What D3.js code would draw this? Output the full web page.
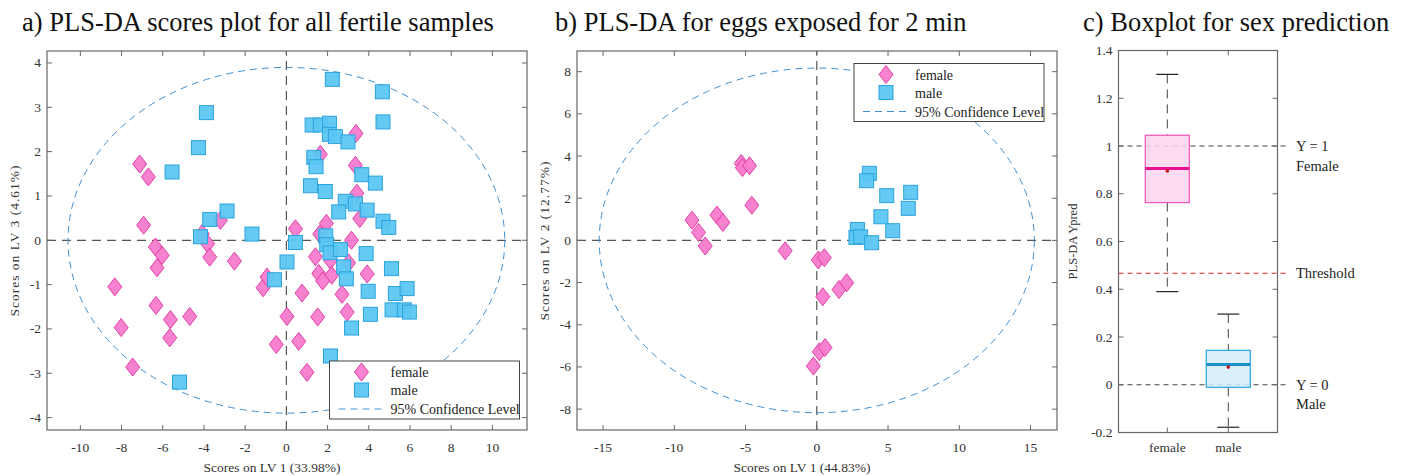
<!DOCTYPE html>
<html>
<head>
<meta charset="utf-8">
<script src="https://cdn.jsdelivr.net/npm/d3@7"></script>
<style>
  body { margin: 0; background: #fff; }
  svg { display: block; font-family: "Liberation Serif", "DejaVu Serif", serif; }
</style>
</head>
<body>
<svg id="chart" width="1410" height="476"></svg>
<script>
// panel a: scores on LV1 / LV3, all fertile samples
const femaleA = [
  [-7.12,1.72],[-6.70,1.43],[-6.93,0.34],[-3.2,0.45],[-4.09,0.15],[-3.82,-0.08],
  [-6.36,-0.15],[-6.03,-0.34],[-3.72,-0.38],[-2.52,-0.47],[0.44,0.26],[-6.28,-0.62],
  [-8.33,-1.05],[-6.33,-1.47],[-5.63,-1.79],[-4.69,-1.72],[-5.66,-2.2],[-8.02,-1.97],
  [-7.46,-2.86],[-1.13,-1.07],[-0.94,-0.83],[0.03,-1.72],[-0.49,-2.35],[3.38,2.41],
  [1.65,1.94],[3.35,1.69],[3.42,1.06],[3.56,0.49],[1.94,0.38],[1.62,0.14],[3.16,0.0],
  [1.41,-0.37],[2.14,-0.45],[3.02,-0.51],[1.57,-0.75],[2.2,-0.79],[1.76,-0.92],
  [3.92,-0.76],[0.76,-1.19],[2.7,-1.22],[1.52,-1.73],[2.95,-1.62],[0.6,-2.28],[1.0,-2.98]
];
const maleA = [
  [-3.88,2.88],[-4.27,2.09],[-5.55,1.54],[-2.88,0.66],[-3.72,0.47],[-4.17,0.08],
  [-1.67,0.14],[0.44,-0.05],[0.03,-0.49],[-0.58,-0.89],[-5.19,-3.2],
  [2.23,3.63],[4.66,3.35],[4.69,2.67],[1.25,2.6],[1.65,2.6],[2.09,2.64],[2.09,2.39],
  [2.38,2.34],[2.99,2.22],[1.33,1.87],[1.44,1.66],[3.66,1.48],[4.32,1.29],[1.17,1.23],
  [1.89,1.1],[2.86,0.88],[3.35,0.82],[3.92,0.68],[2.54,0.64],[4.69,0.43],[4.97,0.29],
  [1.91,0.1],[1.96,-0.1],[2.12,-0.28],[2.62,-0.21],[3.87,-0.3],[2.78,-0.6],[2.91,-0.87],
  [5.1,-0.64],[3.97,-1.15],[5.29,-1.2],[5.86,-1.09],[4.08,-1.67],[5.13,-1.57],
  [5.73,-1.57],[5.97,-1.62],[3.16,-1.98],[2.14,-2.61]
];
const xTicksA = [-10,-8,-6,-4,-2,0,2,4,6,8,10];
const yTicksA = [-4,-3,-2,-1,0,1,2,3,4];
const ellipseA = [10.6, 3.9];

// panel b: eggs exposed for 2 min
const femaleB = [
  [-8.76,0.96],[-8.3,0.38],[-7.83,-0.27],[-7.01,1.2],[-6.59,0.85],[-5.3,3.65],
  [-5.22,3.45],[-4.72,3.54],[-4.56,1.67],[-2.22,-0.49],[0.11,-0.93],[0.53,-0.82],
  [0.42,-2.67],[1.56,-2.33],[2.1,-2.01],[0.18,-5.28],[0.58,-5.08],[-0.24,-5.96]
];
const maleB = [
  [3.69,3.18],[3.5,2.83],[4.91,2.12],[6.59,2.28],[6.42,1.52],[4.5,1.12],
  [5.33,0.46],[2.85,0.52],[2.75,0.14],[3.08,0.17],[3.85,-0.11]
];
const xTicksB = [-15,-10,-5,0,5,10,15];
const yTicksB = [-8,-6,-4,-2,0,2,4,6,8];
const ellipseB = [15.27, 8.17];

// panel c: boxplot of predicted Y
const boxGroups = ["female", "male"];
const whiskerHigh = [1.30, 0.296];
const q3 = [1.045, 0.144];
const medians = [0.906, 0.085];
const q1 = [0.763, -0.011];
const whiskerLow = [0.39, -0.178];
const means = [0.895, 0.074];
const threshold = 0.467;
const yTicksC = [-0.2, 0, 0.2, 0.4, 0.6, 0.8, 1, 1.2, 1.4];

const svg = d3.select("#chart");
const axisColor = "#666";
const textColor = "#333";
const femaleFill = "#f77ccd", femaleStroke = "#e23fa6";
const maleFill = "#5cc6f2", maleStroke = "#2aa3de";
const fmt = d => String(+d.toFixed(1));

// title text
function title(x, text) {
  svg.append("text").attr("x", x).attr("y", 31)
    .attr("font-size", 26.5).attr("fill", "#111").text(text);
}
title(22, "a) PLS-DA scores plot for all fertile samples");
title(555, "b) PLS-DA for eggs exposed for 2 min");
title(1083, "c) Boxplot for sex prediction");

// box + ticks inside on all four sides, like MATLAB "box on"
function frame(g, x, y, xTicks, yTicks, xLabels, yFmt) {
  const [x0, x1] = x.range(), [y0, y1] = y.range();
  g.append("rect").attr("x", x0).attr("y", y1).attr("width", x1 - x0).attr("height", y0 - y1)
    .attr("fill", "none").attr("stroke", axisColor).attr("stroke-width", 1.2);
  const tl = 5;
  xTicks.forEach((t, i) => {
    const px = x(t);
    g.append("line").attr("x1", px).attr("x2", px).attr("y1", y0).attr("y2", y0 - tl).attr("stroke", axisColor);
    g.append("line").attr("x1", px).attr("x2", px).attr("y1", y1).attr("y2", y1 + tl).attr("stroke", axisColor);
    g.append("text").attr("x", px).attr("y", y0 + 22).attr("text-anchor", "middle")
      .attr("font-size", 13.5).attr("fill", textColor).text(xLabels ? xLabels[i] : t);
  });
  yTicks.forEach(t => {
    const py = y(t);
    g.append("line").attr("x1", x0).attr("x2", x0 + tl).attr("y1", py).attr("y2", py).attr("stroke", axisColor);
    g.append("line").attr("x1", x1).attr("x2", x1 - tl).attr("y1", py).attr("y2", py).attr("stroke", axisColor);
    g.append("text").attr("x", x0 - 6).attr("y", py + 4.5).attr("text-anchor", "end")
      .attr("font-size", 13.5).attr("fill", textColor).text(yFmt ? yFmt(t) : t);
  });
}

function diamond(g, px, py) {
  g.append("path").attr("d", `M${px},${py - 9}L${px + 7},${py}L${px},${py + 9}L${px - 7},${py}Z`)
    .attr("fill", femaleFill).attr("stroke", femaleStroke).attr("stroke-width", 1).attr("fill-opacity", 0.95);
}
function square(g, px, py) {
  g.append("rect").attr("x", px - 7).attr("y", py - 7).attr("width", 14).attr("height", 14)
    .attr("fill", maleFill).attr("stroke", maleStroke).attr("stroke-width", 1).attr("fill-opacity", 0.95);
}

function scatterPanel(opt) {
  const g = svg.append("g");
  const x = d3.scaleLinear().domain(opt.xDomain).range(opt.xRange);
  const y = d3.scaleLinear().domain(opt.yDomain).range(opt.yRange);

  // zero lines
  g.append("line").attr("x1", x.range()[0]).attr("x2", x.range()[1]).attr("y1", y(0)).attr("y2", y(0))
    .attr("stroke", "#555").attr("stroke-dasharray", "9,6").attr("stroke-width", 1.2);
  g.append("line").attr("x1", x(0)).attr("x2", x(0)).attr("y1", y.range()[0]).attr("y2", y.range()[1])
    .attr("stroke", "#555").attr("stroke-dasharray", "9,6").attr("stroke-width", 1.2);

  // 95% confidence ellipse
  g.append("ellipse").attr("cx", x(0)).attr("cy", y(0))
    .attr("rx", x(opt.ellipse[0]) - x(0)).attr("ry", y(0) - y(opt.ellipse[1]))
    .attr("fill", "none").attr("stroke", "#3f8fd2").attr("stroke-width", 1)
    .attr("stroke-dasharray", "7,5");

  opt.female.forEach(d => diamond(g, x(d[0]), y(d[1])));
  opt.male.forEach(d => square(g, x(d[0]), y(d[1])));

  frame(g, x, y, opt.xTicks, opt.yTicks);

  const [x0, x1] = x.range(), [y0, y1] = y.range();
  // x label sits a little left of the axis centre in the original
  g.append("text").attr("x", (x0 + x1) / 2 - 15).attr("y", y0 + 42).attr("text-anchor", "middle")
    .attr("font-size", 13.5).attr("fill", textColor).text(opt.xLabel);
  g.append("text").attr("transform", `translate(${opt.yLabelX},${(y0 + y1) / 2}) rotate(-90)`)
    .attr("text-anchor", "middle").attr("font-size", 13.5).attr("letter-spacing", 1)
    .attr("fill", textColor).text(opt.yLabel);

  // legend
  const lg = g.append("g").attr("transform", `translate(${opt.legend[0]},${opt.legend[1]})`);
  lg.append("rect").attr("width", 190).attr("height", 58).attr("fill", "#fff")
    .attr("stroke", "#444").attr("stroke-width", 1);
  diamond(lg, 32, 11);
  square(lg, 32, 29);
  lg.append("line").attr("x1", 9).attr("x2", 55).attr("y1", 48).attr("y2", 48)
    .attr("stroke", "#3f8fd2").attr("stroke-dasharray", "7,5");
  [["female", 11], ["male", 29], ["95% Confidence Level", 48]].forEach(([t, yy]) => {
    lg.append("text").attr("x", 61).attr("y", yy + 5).attr("font-size", 14)
      .attr("fill", "#222").text(t);
  });
}

scatterPanel({
  xDomain: [-11.62, 11.68], xRange: [47, 527],
  yDomain: [-4.28, 4.27], yRange: [430, 51],
  female: femaleA, male: maleA, ellipse: ellipseA,
  xTicks: xTicksA, yTicks: yTicksA,
  xLabel: "Scores on LV 1 (33.98%)", yLabel: "Scores on LV 3 (4.61%)", yLabelX: 19,
  legend: [329.5, 361]
});

scatterPanel({
  xDomain: [-16.83, 16.86], xRange: [577, 1057],
  yDomain: [-8.99, 8.98], yRange: [430, 51],
  female: femaleB, male: maleB, ellipse: ellipseB,
  xTicks: xTicksB, yTicks: yTicksB,
  xLabel: "Scores on LV 1 (44.83%)", yLabel: "Scores on LV 2 (12.77%)", yLabelX: 549,
  legend: [854, 63.5]
});

// boxplot panel
(function () {
  const g = svg.append("g");
  const x = d3.scalePoint().domain(boxGroups).range([1167.3, 1228.3]);
  const y = d3.scaleLinear().domain([-0.2, 1.4]).range([432.5, 50.5]);
  const xr = [1118.5, 1277.5];
  const boxW = 44, capW = 22;
  const fills = ["#fdd6ef", "#d4eefb"], strokes = ["#ee5cbd", "#36a9de"], medCol = ["#e8108c", "#1a8fcf"];

  // reference lines
  [[1, "#444"], [0, "#444"], [threshold, "#e02424"]].forEach(([v, c]) => {
    g.append("line").attr("x1", xr[0]).attr("x2", 1289).attr("y1", y(v)).attr("y2", y(v))
      .attr("stroke", c).attr("stroke-width", 1.2).attr("stroke-dasharray", "5,4");
  });

  boxGroups.forEach((k, i) => {
    const cx = x(k);
    g.append("line").attr("x1", cx).attr("x2", cx).attr("y1", y(whiskerHigh[i])).attr("y2", y(q3[i]))
      .attr("stroke", "#444").attr("stroke-dasharray", "9,6");
    g.append("line").attr("x1", cx).attr("x2", cx).attr("y1", y(q1[i])).attr("y2", y(whiskerLow[i]))
      .attr("stroke", "#444").attr("stroke-dasharray", "9,6");
    [whiskerHigh[i], whiskerLow[i]].forEach(v => {
      g.append("line").attr("x1", cx - capW / 2).attr("x2", cx + capW / 2).attr("y1", y(v)).attr("y2", y(v))
        .attr("stroke", "#222").attr("stroke-width", 1.2);
    });
    g.append("rect").attr("x", cx - boxW / 2).attr("y", y(q3[i])).attr("width", boxW)
      .attr("height", y(q1[i]) - y(q3[i])).attr("fill", fills[i]).attr("fill-opacity", 0.85)
      .attr("stroke", strokes[i]).attr("stroke-width", 1.3);
    g.append("line").attr("x1", cx - boxW / 2).attr("x2", cx + boxW / 2).attr("y1", y(medians[i])).attr("y2", y(medians[i]))
      .attr("stroke", medCol[i]).attr("stroke-width", 3);
    g.append("circle").attr("cx", cx).attr("cy", y(means[i])).attr("r", 1.8).attr("fill", "#c01010");
  });

  const xs = d3.scaleLinear().domain([0, 1]).range(xr);
  frame(g, xs, y, [], yTicksC, null, fmt);
  // category ticks and labels
  boxGroups.forEach(k => {
    const cx = x(k);
    g.append("line").attr("x1", cx).attr("x2", cx).attr("y1", 432.5).attr("y2", 427.5).attr("stroke", axisColor);
    g.append("line").attr("x1", cx).attr("x2", cx).attr("y1", 50.5).attr("y2", 55.5).attr("stroke", axisColor);
    g.append("text").attr("x", cx).attr("y", 452).attr("text-anchor", "middle")
      .attr("font-size", 13.5).attr("fill", textColor).text(k);
  });

  [["Y = 1", y(1) + 5], ["Female", y(1) + 25], ["Threshold", y(threshold) + 5],
   ["Y = 0", y(0) + 5], ["Male", y(0) + 24]].forEach(([t, yy]) => {
    g.append("text").attr("x", 1296).attr("y", yy).attr("font-size", 14.5)
      .attr("fill", "#222").text(t);
  });

  g.append("text").attr("transform", `translate(1077,${(432.5 + 50.5) / 2}) rotate(-90)`)
    .attr("text-anchor", "middle").attr("font-size", 12.5).attr("fill", textColor).text("PLS-DA Ypred");
})();
</script>
</body>
</html>
